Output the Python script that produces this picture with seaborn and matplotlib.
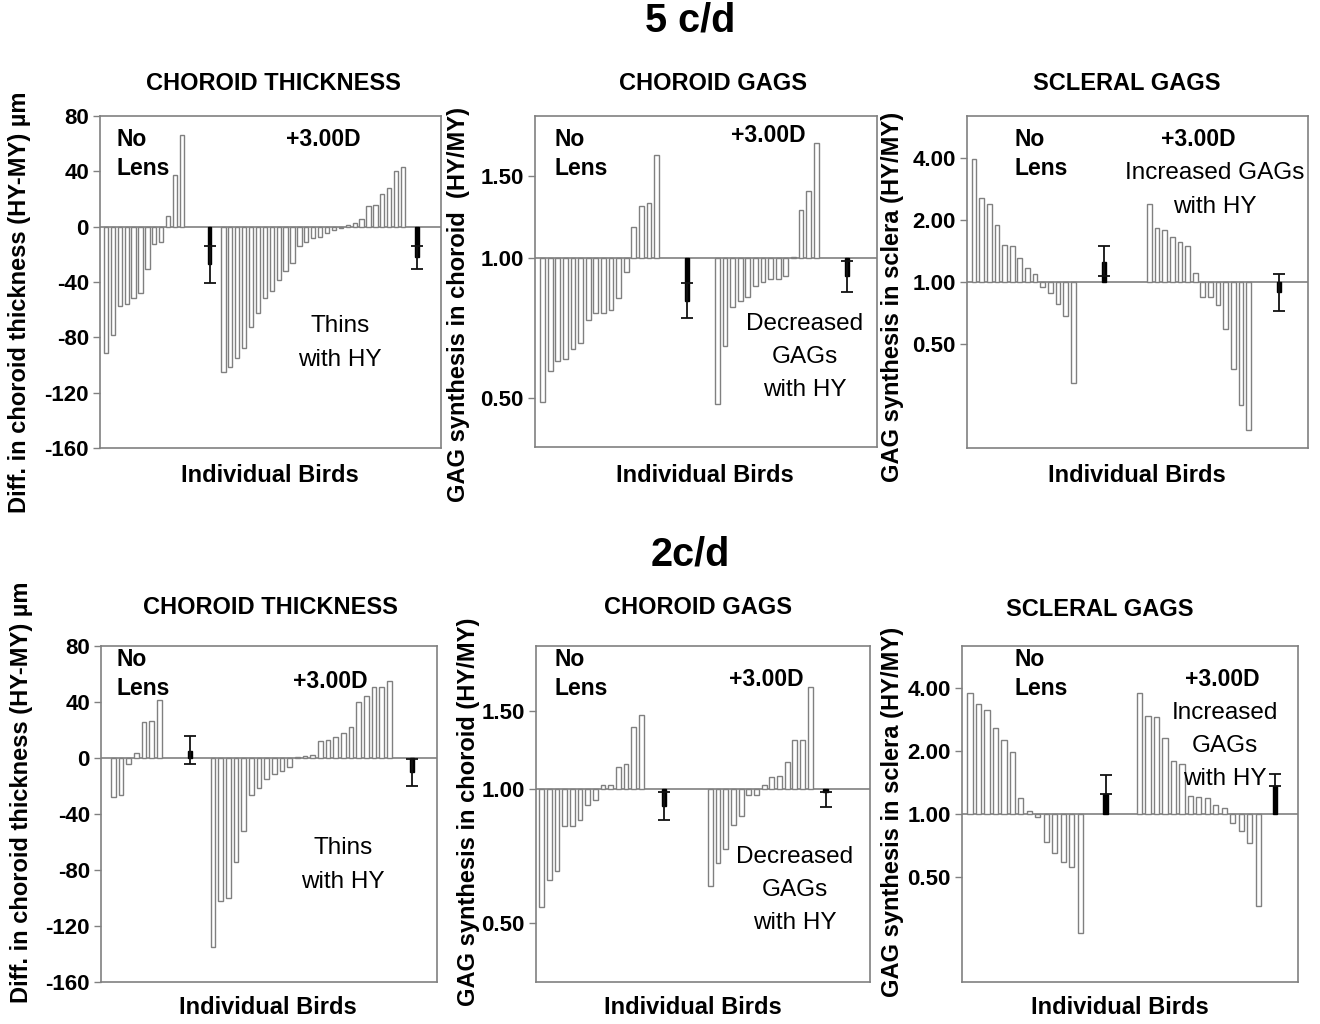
import numpy as np
import pandas as pd
import matplotlib
matplotlib.use("Agg")
import matplotlib.pyplot as plt
import seaborn as sns

sns.set_theme(style="white")
plt.rcParams["font.family"] = ["Liberation Sans", "DejaVu Sans"]
plt.rcParams["text.color"] = "black"
plt.rcParams["axes.labelcolor"] = "black"
plt.rcParams["ytick.color"] = "black"

# ---------------- data ----------------
# 5 c/d : choroid thickness difference (HY-MY), um
ct5_nolens = [-91.6, -78, -57.5, -55.6, -51.6, -48, -30.5, -12.7, -10.8, 7.7, 37, 66.4]
ct5_plus3 = [-104.8, -101.4, -94.7, -88, -72.4, -62.4, -51.6, -46.8, -38.4, -32.4,
             -26.4, -13.9, -10.8, -8.4, -7.2, -4.3, -2.4, -1.2, 1.2, 2.9, 5.3,
             14.9, 16, 23.5, 28, 40, 43.2]
ct5_mean = [-27.0, -21.6]
ct5_low = [-40.8, -30.5]
ct5_high = [-13.7, -13.7]

# 5 c/d : choroid GAG synthesis (HY/MY)
cg5_nolens = [0.492, 0.573, 0.601, 0.608, 0.639, 0.657, 0.738, 0.763, 0.763, 0.774,
              0.821, 0.932, 1.169, 1.294, 1.315, 1.663]
cg5_plus3 = [0.486, 0.648, 0.785, 0.808, 0.824, 0.873, 0.887, 0.902, 0.902, 0.917,
             1.006, 1.266, 1.397, 1.767]
cg5_mean = [0.811, 0.917]
cg5_low = [0.743, 0.845]
cg5_high = [0.883, 0.987]

# 5 c/d : scleral GAG synthesis (HY/MY)
sg5_nolens = [3.94, 2.56, 2.39, 1.88, 1.51, 1.50, 1.31, 1.17, 1.09, 0.943, 0.885,
              0.783, 0.688, 0.325]
sg5_plus3 = [2.39, 1.82, 1.78, 1.65, 1.57, 1.50, 1.105, 0.846, 0.846, 0.777, 0.589,
             0.377, 0.254, 0.191]
sg5_mean = [1.25, 0.895]
sg5_low = [1.073, 0.727]
sg5_high = [1.487, 1.093]

# 2 c/d : choroid thickness difference (HY-MY), um
ct2_nolens = [-28.2, -26.3, -4.3, 3.6, 26, 26.7, 41.5]
ct2_plus3 = [-135, -102, -100, -74, -52.3, -26.3, -21.7, -15, -11.5, -9.1, -6.7,
             1, 1.7, 2.1, 12.4, 13, 14.8, 17.7, 22, 40.3, 44.6, 50.6, 50.6, 54.9]
ct2_mean = [5.3, -10.3]
ct2_low = [-4.3, -19.8]
ct2_high = [16.0, -0.5]

# 2 c/d : choroid GAG synthesis (HY/MY)
cg2_nolens = [0.544, 0.625, 0.653, 0.824, 0.826, 0.853, 0.922, 0.946, 1.02, 1.02,
              1.121, 1.138, 1.38, 1.47]
cg2_plus3 = [0.606, 0.683, 0.732, 0.831, 0.871, 0.971, 0.971, 1.02, 1.064, 1.072,
             1.154, 1.29, 1.29, 1.70]
cg2_mean = [0.918, 0.985]
cg2_low = [0.851, 0.913]
cg2_high = [0.985, 0.985]

# 2 c/d : scleral GAG synthesis (HY/MY)
sg2_nolens = [3.79, 3.38, 3.15, 2.58, 2.26, 1.99, 1.19, 1.03, 0.971, 0.732, 0.651,
              0.592, 0.556, 0.270]
sg2_plus3 = [3.79, 2.95, 2.92, 2.32, 1.80, 1.73, 1.22, 1.21, 1.19, 1.10, 1.064,
             0.902, 0.832, 0.727, 0.362]
sg2_mean = [1.246, 1.356]
sg2_low = [1.246, 1.356]
sg2_high = [1.54, 1.56]

ct_ticks = [80, 40, 0, -40, -80, -120, -160]
cg_ticks = [0.50, 1.00, 1.50]
sg_ticks = [0.50, 1.00, 2.00, 4.00]

# ---------------- layout ----------------
W, H = 1320, 1024
fig = plt.figure(figsize=(W / 100, H / 100), dpi=100)


def px(x, y):
    return x / W, 1 - y / H


def add_ax(l, t, r, b):
    return fig.add_axes([l / W, 1 - b / H, (r - l) / W, (b - t) / H])


GRAY = "#808080"
FS = 16


def draw(ax, g1, g2, mean, low, high, log, ylim, ticks, pos, xlim):
    e1, s2, e2 = pos
    base = 1.0 if log else 0.0
    x = np.concatenate([np.arange(len(g1)), s2 + np.arange(len(g2)), [e1, e2]])
    v = np.concatenate([g1, g2, mean])
    kind = ["bird"] * (len(g1) + len(g2)) + ["mean", "mean"]
    df = pd.DataFrame({"pos": x, "h": v - base, "kind": kind})
    sns.barplot(data=df, x="pos", y="h", hue="kind", native_scale=True,
                palette={"bird": "white", "mean": "black"}, saturation=1,
                width=0.62, errorbar=None, bottom=base, linewidth=1.0,
                legend=False, ax=ax, zorder=2)
    for p in ax.patches:
        fc = p.get_facecolor()
        if fc[0] < 0.5:
            p.set_edgecolor("black")
            p.set_zorder(3)
            p.set_width(p.get_width() * 0.85)
            p.set_x(p.get_x() + p.get_width() * 0.09)
        else:
            p.set_edgecolor(GRAY)
    m = np.array(mean)
    ax.errorbar([e1, e2], m, yerr=[m - np.array(low), np.array(high) - m],
                fmt="none", ecolor="#111111", elinewidth=1.3, capsize=4,
                capthick=1.3, zorder=4)
    ax.axhline(base, color=GRAY, lw=1.2, zorder=1)
    if log:
        ax.set_yscale("log")
    ax.set_ylim(*ylim)
    ax.set_xlim(*xlim)
    ax.set_yticks(ticks, [f"{t:.2f}" if log else f"{t:d}" for t in ticks],
                  fontweight="bold", fontsize=FS)
    ax.minorticks_off()
    ax.set_xticks([])
    ax.set_xlabel("")
    ax.set_ylabel("")
    ax.tick_params(axis="y", direction="out", length=5, width=1.0, color=GRAY,
                   left=True, pad=3, labelcolor="black")
    for s in ax.spines.values():
        s.set_color(GRAY)
        s.set_linewidth(1.2)
        s.set_visible(True)


axs = [
    add_ax(100, 116, 441, 448),
    add_ax(535, 116, 877, 447),
    add_ax(967, 116, 1308, 448),
    add_ax(101, 646, 437, 982),
    add_ax(536, 646, 870, 982),
    add_ax(962, 646, 1298, 982),
]

draw(axs[0], ct5_nolens, ct5_plus3, ct5_mean, ct5_low, ct5_high, False, (-160, 80),
     ct_ticks, (15, 17, 45), (-0.87, 48.5))
draw(axs[1], cg5_nolens, cg5_plus3, cg5_mean, cg5_low, cg5_high, True, (0.393, 2.02),
     cg_ticks, (19, 23, 40), (-1.0, 44.0))
draw(axs[2], sg5_nolens, sg5_plus3, sg5_mean, sg5_low, sg5_high, True, (0.157, 6.37),
     sg_ticks, (17, 23, 40), (-0.92, 43.8))
draw(axs[3], ct2_nolens, ct2_plus3, ct2_mean, ct2_low, ct2_high, False, (-160, 80),
     ct_ticks, (10, 13, 39), (-1.6, 42.2))
draw(axs[4], cg2_nolens, cg2_plus3, cg2_mean, cg2_low, cg2_high, True, (0.368, 2.10),
     cg_ticks, (16, 22, 37), (-0.74, 42.8))
draw(axs[5], sg2_nolens, sg2_plus3, sg2_mean, sg2_low, sg2_high, True, (0.157, 6.37),
     sg_ticks, (16, 20, 36), (-0.94, 38.7))

# ---------------- texts ----------------
def t(x, y, s, **kw):
    kw.setdefault("fontsize", FS)
    kw.setdefault("ha", "center")
    kw.setdefault("va", "center")
    kw.setdefault("color", "black")
    fig.text(*px(x, y), s, **kw)


t(690, 20, "5 c/d", fontsize=28.5, fontweight="bold")
t(690, 555, "2c/d", fontsize=28.5, fontweight="bold")

titles = [("CHOROID THICKNESS", 273, 83), ("CHOROID GAGS", 713, 83),
          ("SCLERAL GAGS", 1127, 83), ("CHOROID THICKNESS", 270, 607),
          ("CHOROID GAGS", 698, 607), ("SCLERAL GAGS", 1100, 610)]
for s, x, y in titles:
    t(x, y, s, fontweight="bold", fontsize=17)

for x, y in [(270, 476), (705, 476), (1137, 476), (268, 1008), (693, 1008), (1120, 1008)]:
    t(x, y, "Individual Birds", fontweight="bold", fontsize=17)

ylabs = [("Diff. in choroid thickness (HY-MY) µm", 20, 302),
         ("GAG synthesis in choroid  (HY/MY)", 458, 305),
         ("GAG synthesis in sclera (HY/MY)", 893, 297),
         ("Diff. in choroid thickness (HY-MY) µm", 22, 792),
         ("GAG synthesis in choroid (HY/MY)", 468, 812),
         ("GAG synthesis in sclera (HY/MY)", 893, 812)]
for s, x, y in ylabs:
    t(x, y, s, rotation=90, fontweight="bold", fontsize=17)

for x, y in [(117, 154), (554, 154), (1014, 154), (117, 674), (554, 674), (1014, 674)]:
    t(x, y, "No\nLens", ha="left", fontweight="bold", fontsize=16.5, linespacing=1.3)

for x, y in [(323, 140), (768, 135), (1198, 140), (330, 682), (766, 680), (1222, 680)]:
    t(x, y, "+3.00D", fontweight="bold", fontsize=16.5)

LS = 1.65
t(340, 343, "Thins\nwith HY", fontsize=17.5, linespacing=LS)
t(343, 865, "Thins\nwith HY", fontsize=17.5, linespacing=LS)
t(805, 357, "Decreased\nGAGs\nwith HY", fontsize=17.5, linespacing=LS)
t(795, 890, "Decreased\nGAGs\nwith HY", fontsize=17.5, linespacing=LS)
t(1215, 190, "Increased GAGs\nwith HY", fontsize=17.5, linespacing=LS)
t(1225, 746, "Increased\nGAGs\nwith HY", fontsize=17.5, linespacing=LS)

fig.savefig("out.png", dpi=100, facecolor="white")
